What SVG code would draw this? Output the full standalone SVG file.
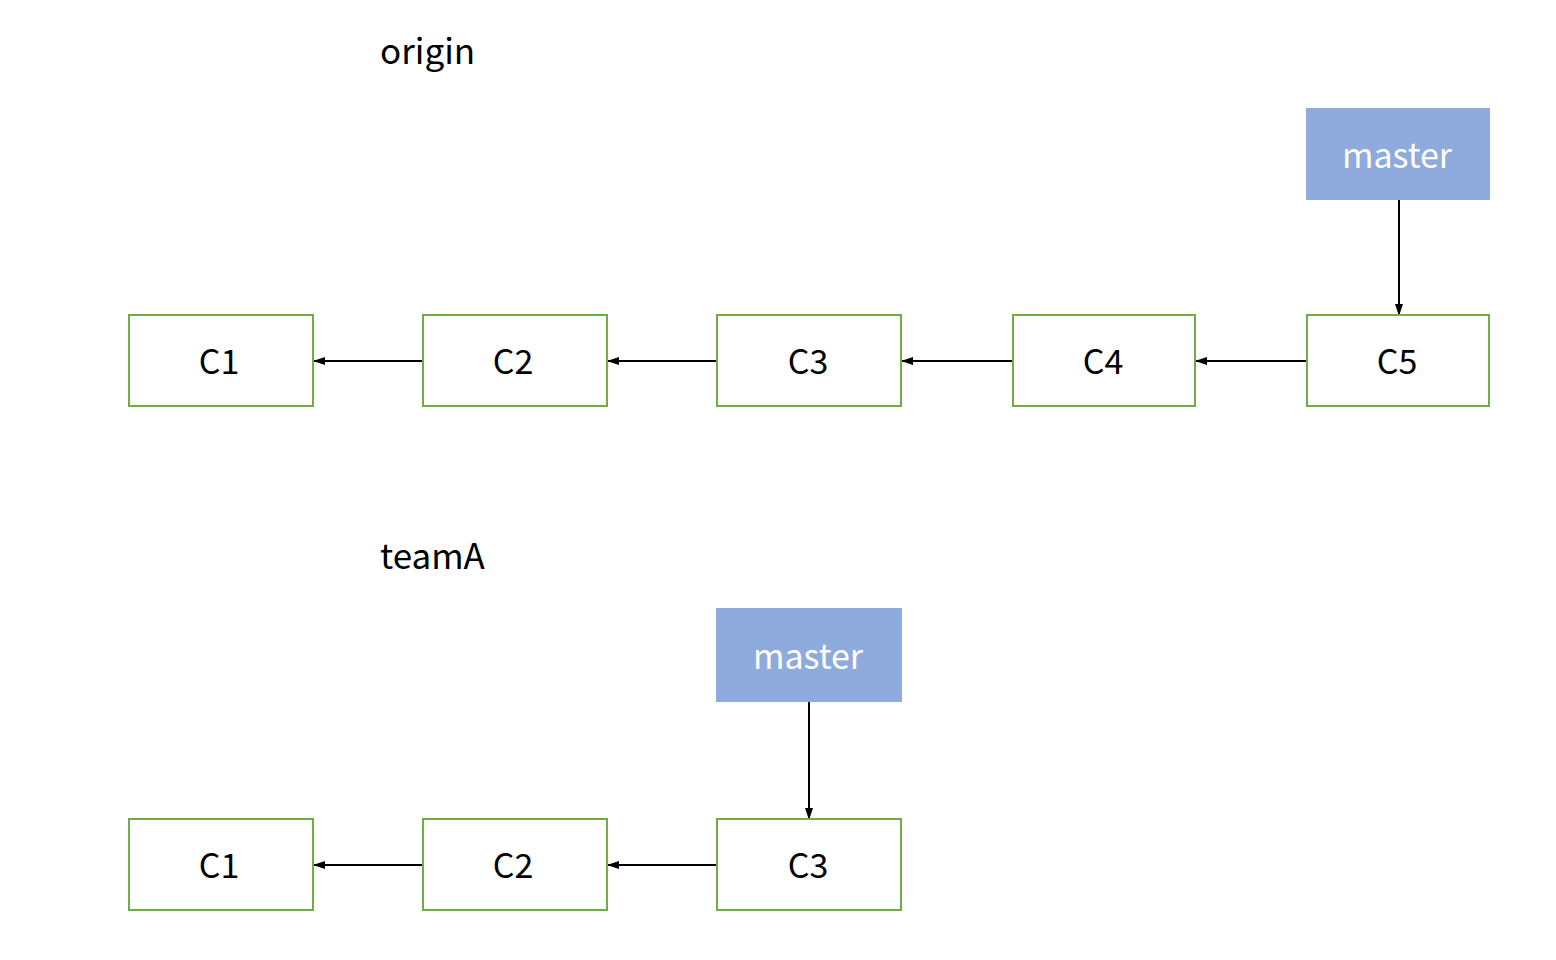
<svg xmlns="http://www.w3.org/2000/svg" width="1556" height="960" viewBox="0 0 1556 960">
<style>
.c{fill:#ffffff;stroke:#70AD47;stroke-width:2}
.b{fill:#8FAADC;stroke:none}
.t{font-family:"Noto Sans CJK SC","Noto Sans",sans-serif;font-size:34px;text-anchor:middle;dominant-baseline:central;fill:#000}
.w{fill:#ffffff}
.l{font-family:"Noto Sans CJK SC","Noto Sans",sans-serif;font-size:35px;fill:#000}
.e{stroke:#000;stroke-width:2;fill:none;marker-end:url(#a)}
</style>
<defs>
<marker id="a" markerWidth="12" markerHeight="10" refX="11" refY="5" orient="auto" markerUnits="userSpaceOnUse">
<path d="M0,1 L12,5 L0,9 Z" fill="#000"/>
</marker>
</defs>
<rect width="1556" height="960" fill="#ffffff"/>
<text class="l" x="380" y="64">origin</text>
<text class="l" x="380" y="569">teamA</text>
<g id="connectors">
<line class="e" x1="1306" y1="361" x2="1196" y2="361"/>
<line class="e" x1="1012" y1="361" x2="902" y2="361"/>
<line class="e" x1="716" y1="361" x2="608" y2="361"/>
<line class="e" x1="422" y1="361" x2="314" y2="361"/>
<line class="e" x1="1399" y1="200" x2="1399" y2="315"/>
<line class="e" x1="716" y1="865" x2="608" y2="865"/>
<line class="e" x1="422" y1="865" x2="314" y2="865"/>
<line class="e" x1="809" y1="702" x2="809" y2="819"/>
</g>
<g id="o-c1"><rect class="c" x="129" y="315" width="184" height="91"/><text class="t" x="219" y="359">C1</text></g>
<g id="o-c2"><rect class="c" x="423" y="315" width="184" height="91"/><text class="t" x="513" y="359">C2</text></g>
<g id="o-c3"><rect class="c" x="717" y="315" width="184" height="91"/><text class="t" x="808" y="359">C3</text></g>
<g id="o-c4"><rect class="c" x="1013" y="315" width="182" height="91"/><text class="t" x="1103" y="359">C4</text></g>
<g id="o-c5"><rect class="c" x="1307" y="315" width="182" height="91"/><text class="t" x="1397" y="359">C5</text></g>
<g id="o-master"><rect class="b" x="1306" y="108" width="184" height="92"/><text class="t w" x="1397" y="153">master</text></g>
<g id="a-c1"><rect class="c" x="129" y="819" width="184" height="91"/><text class="t" x="219" y="863">C1</text></g>
<g id="a-c2"><rect class="c" x="423" y="819" width="184" height="91"/><text class="t" x="513" y="863">C2</text></g>
<g id="a-c3"><rect class="c" x="717" y="819" width="184" height="91"/><text class="t" x="808" y="863">C3</text></g>
<g id="a-master"><rect class="b" x="716" y="608" width="186" height="94"/><text class="t w" x="808" y="654">master</text></g>
</svg>
